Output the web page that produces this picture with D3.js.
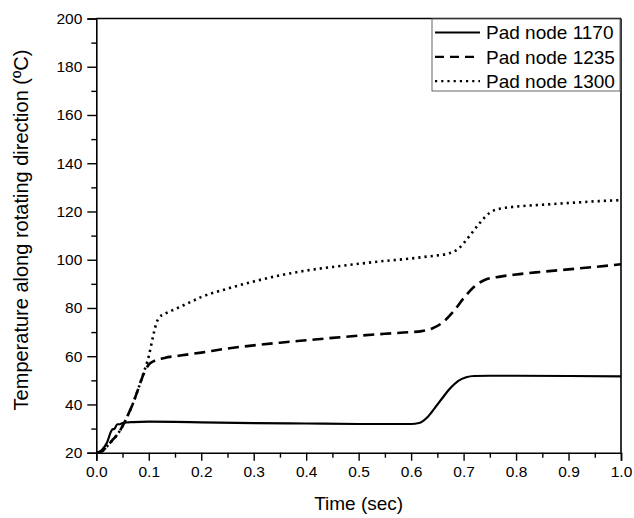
<!DOCTYPE html>
<html>
<head>
<meta charset="utf-8">
<script src="https://cdn.jsdelivr.net/npm/d3@7"></script>
<style>
  html, body { margin: 0; padding: 0; background: #fff; }
  svg { display: block; font-family: "Liberation Sans", Arial, sans-serif; }
</style>
</head>
<body>
<svg id="chart" width="634" height="518"></svg>
<script>
// ---- data ----
const seriesNames = ["Pad node 1170", "Pad node 1235", "Pad node 1300"];

const time1170 = [0, 0.01, 0.02, 0.03, 0.035, 0.04, 0.045, 0.05, 0.07, 0.1, 0.15, 0.2, 0.3, 0.4, 0.5, 0.6, 0.615, 0.63, 0.645, 0.66, 0.675, 0.69, 0.705, 0.72, 0.75, 0.8, 0.9, 1.0];
const temp1170 = [20, 21, 24, 29.5, 30, 31.8, 31.8, 32.3, 32.7, 32.9, 32.8, 32.6, 32.3, 32.1, 31.9, 31.9, 32.3, 34.5, 38.5, 42.8, 46.8, 49.8, 51.3, 51.8, 51.9, 51.9, 51.8, 51.6];

const time1235 = [0, 0.01, 0.02, 0.03, 0.04, 0.05, 0.06, 0.07, 0.08, 0.09, 0.1, 0.11, 0.13, 0.16, 0.2, 0.25, 0.3, 0.35, 0.4, 0.45, 0.5, 0.55, 0.6, 0.62, 0.64, 0.66, 0.68, 0.7, 0.72, 0.74, 0.77, 0.8, 0.85, 0.9, 0.95, 1.0];
const temp1235 = [20, 20.5, 22.5, 25, 27.5, 31, 35.5, 40.5, 46.5, 52.5, 56.5, 58, 59.3, 60.3, 61.5, 63.2, 64.5, 65.6, 66.6, 67.6, 68.5, 69.3, 70, 70.4, 71.5, 74, 78.4, 84, 88.8, 91.6, 93, 93.9, 95, 96, 97, 98.1];

const time1300 = [0, 0.01, 0.02, 0.03, 0.04, 0.05, 0.06, 0.07, 0.08, 0.09, 0.1, 0.105, 0.11, 0.115, 0.12, 0.13, 0.15, 0.18, 0.2, 0.25, 0.3, 0.35, 0.4, 0.45, 0.5, 0.55, 0.6, 0.63, 0.65, 0.67, 0.69, 0.71, 0.73, 0.75, 0.77, 0.8, 0.85, 0.9, 0.95, 1.0];
const temp1300 = [20, 20.5, 22.5, 25, 27.5, 31, 35.5, 40.5, 46.5, 53, 60, 65, 70, 74, 76, 77.5, 79.5, 82.5, 84.5, 88, 91, 93.5, 95.5, 97, 98.3, 99.5, 100.5, 101.3, 101.8, 102.5, 104.5, 109.5, 115, 119.5, 121.2, 122, 122.8, 123.5, 124.2, 124.7];

const xTicks = [0, 0.1, 0.2, 0.3, 0.4, 0.5, 0.6, 0.7, 0.8, 0.9, 1.0];
const yTicks = [20, 40, 60, 80, 100, 120, 140, 160, 180, 200];

const xTitle = "Time (sec)";
const yTitle = "Temperature along rotating direction (ºC)";

(function () {
// ---- layout ----
const svg = d3.select("#chart");
const pL = 96.3, pR = 621, pT = 18.5, pB = 452.7;

const x = d3.scaleLinear().domain([0, 1]).range([pL, pR]);
const y = d3.scaleLinear().domain([20, 200]).range([pB, pT]);

const series = [
  { name: seriesNames[0], t: time1170, v: temp1170, dash: null, width: 2.2 },
  { name: seriesNames[1], t: time1235, v: temp1235, dash: "11,6", width: 2.6 },
  { name: seriesNames[2], t: time1300, v: temp1300, dash: "2.2,4", width: 2.6 }
];

const line = d3.line().x(d => x(d[0])).y(d => y(d[1])).curve(d3.curveMonotoneX);

const plot = svg.append("g");
series.forEach(s => {
  const pts = s.t.map((t, i) => [t, s.v[i]]);
  plot.append("path")
    .attr("d", line(pts))
    .attr("fill", "none")
    .attr("stroke", "#000")
    .attr("stroke-width", s.width)
    .attr("stroke-dasharray", s.dash);
});

// frame (top, right)
svg.append("line").attr("x1", pL).attr("x2", pR).attr("y1", pT).attr("y2", pT)
  .attr("stroke", "#000").attr("stroke-width", 1.6);
svg.append("line").attr("x1", pR).attr("x2", pR).attr("y1", pT).attr("y2", pB)
  .attr("stroke", "#000").attr("stroke-width", 1.6);

// x axis
const xAxis = svg.append("g").attr("transform", `translate(0,${pB})`)
  .call(d3.axisBottom(x).tickValues(xTicks).tickFormat(d3.format(".1f")).tickSize(8).tickPadding(5));
const xMinor = svg.append("g").attr("transform", `translate(0,${pB})`)
  .call(d3.axisBottom(x).tickValues(d3.range(0.05, 1, 0.1)).tickFormat("").tickSize(5));

// y axis
const yAxis = svg.append("g").attr("transform", `translate(${pL},0)`)
  .call(d3.axisLeft(y).tickValues(yTicks).tickSize(9).tickPadding(5));
const yMinor = svg.append("g").attr("transform", `translate(${pL},0)`)
  .call(d3.axisLeft(y).tickValues(d3.range(30, 200, 20)).tickFormat("").tickSize(5));

[xAxis, xMinor, yAxis, yMinor].forEach(g => {
  g.select(".domain").attr("stroke", "#000").attr("stroke-width", 1.6);
  g.selectAll(".tick line").attr("stroke", "#000").attr("stroke-width", 1.4);
  g.selectAll(".tick text").attr("fill", "#000").style("font-size", "15.5px")
    .style("font-family", '"Liberation Sans", Arial, sans-serif');
});
xMinor.select(".domain").remove();
yMinor.select(".domain").remove();

// titles
svg.append("text").attr("x", (pL + pR) / 2).attr("y", 510)
  .attr("text-anchor", "middle").style("font-size", "19px").text(xTitle);
svg.append("text")
  .attr("transform", `translate(28,230) rotate(-90)`)
  .attr("text-anchor", "middle").style("font-size", "20px").text(yTitle);

// legend
const lg = svg.append("g");
lg.append("rect").attr("x", 432).attr("y", 19).attr("width", 188).attr("height", 72)
  .attr("fill", "#fff").attr("stroke", "#666").attr("stroke-width", 1);
series.forEach((s, i) => {
  const cy = 32.5 + i * 24.3;
  lg.append("line").attr("x1", 435).attr("x2", 480).attr("y1", cy).attr("y2", cy)
    .attr("stroke", "#000").attr("stroke-width", s.width - 0.4)
    .attr("stroke-dasharray", s.dash === "11,6" ? "9,6" : s.dash);
  lg.append("text").attr("x", 486).attr("y", cy + 6.8)
    .style("font-size", "19px").attr("fill", "#000").text(s.name);
});
})();
</script>
</body>
</html>
